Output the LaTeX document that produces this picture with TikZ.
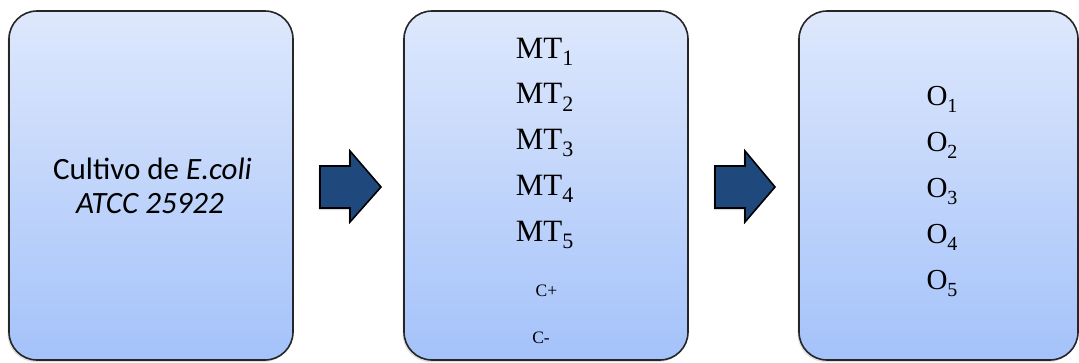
\documentclass[tikz,border=0pt]{standalone}
\usepackage{fontspec}
\setmainfont{Liberation Serif}
\newfontfamily\calibrifont{Carlito}
\usetikzlibrary{shadows}
\definecolor{boxtop}{RGB}{222,232,252}
\definecolor{boxbottom}{RGB}{164,194,250}
\definecolor{arrowblue}{RGB}{31,73,125}
% lowered index digit, set smaller than the letters
\newcommand{\idx}[2][21]{\raisebox{-7.5pt}{\fontsize{#1}{#1}\selectfont #2}}
\tikzset{
  stage/.style={draw=black!85, line width=1.6pt, rounded corners=28pt,
    top color=boxtop, bottom color=boxbottom,
    drop shadow={shadow xshift=-1.5pt, shadow yshift=-2pt, opacity=0.25}},
  blockarrow/.style={fill=arrowblue, draw=black, line width=1.6pt, line join=miter,
    drop shadow={shadow xshift=-1.5pt, shadow yshift=-2pt, opacity=0.3}},
  culturetext/.style={font=\calibrifont\fontsize{31}{34}\selectfont, anchor=base, inner sep=0pt},
  mtlabel/.style={font=\fontsize{31}{31}\selectfont, anchor=base, inner sep=0pt},
  ctrl/.style={font=\fontsize{17.5}{17.5}\selectfont, anchor=base, inner sep=0pt},
  olabel/.style={font=\fontsize{29}{29}\selectfont, anchor=base, inner sep=0pt}
}
\begin{document}
\begin{tikzpicture}[x=1pt,y=-1pt]
\useasboundingbox (0,0) rectangle (1079,362);
% three process stages
\path[stage] (9,11) rectangle (293,360);
\path[stage] (404,11) rectangle (688,360);
\path[stage] (799,11) rectangle (1078,360);
% stage 1 text
\node[culturetext] (culture1) at (152.5,179) {Cultivo de \textit{E.coli}};
\node[culturetext] (culture2) at (150,213) {\textit{ATCC 25922}};
% stage 2 text
\node[mtlabel] (mt1) at (544.5,58.3) {MT\idx[22]{1}};
\node[mtlabel] (mt2) at (544.5,103.5) {MT\idx[22]{2}};
\node[mtlabel] (mt3) at (544.5,149) {MT\idx[22]{3}};
\node[mtlabel] (mt4) at (544.5,195) {MT\idx[22]{4}};
\node[mtlabel] (mt5) at (544.5,241) {MT\idx[22]{5}};
\node[ctrl] (cpos) at (546.5,296.7) {C+};
\node[ctrl] (cneg) at (541,343) {C-};
% stage 3 text
\node[olabel] (o1) at (942,105) {O\idx[20]{1}};
\node[olabel] (o2) at (942,151) {O\idx[20]{2}};
\node[olabel] (o3) at (942,197) {O\idx[20]{3}};
\node[olabel] (o4) at (942,243) {O\idx[20]{4}};
\node[olabel] (o5) at (942,289) {O\idx[20]{5}};
% block arrows between stages
\path[blockarrow] (320,166) -- (350,166) -- (350,151) -- (381,187) -- (350,222)
  -- (350,208) -- (320,208) -- cycle;
\path[blockarrow] (715,166) -- (745,166) -- (745,151) -- (775,187) -- (745,222)
  -- (745,208) -- (715,208) -- cycle;
\end{tikzpicture}
\end{document}
